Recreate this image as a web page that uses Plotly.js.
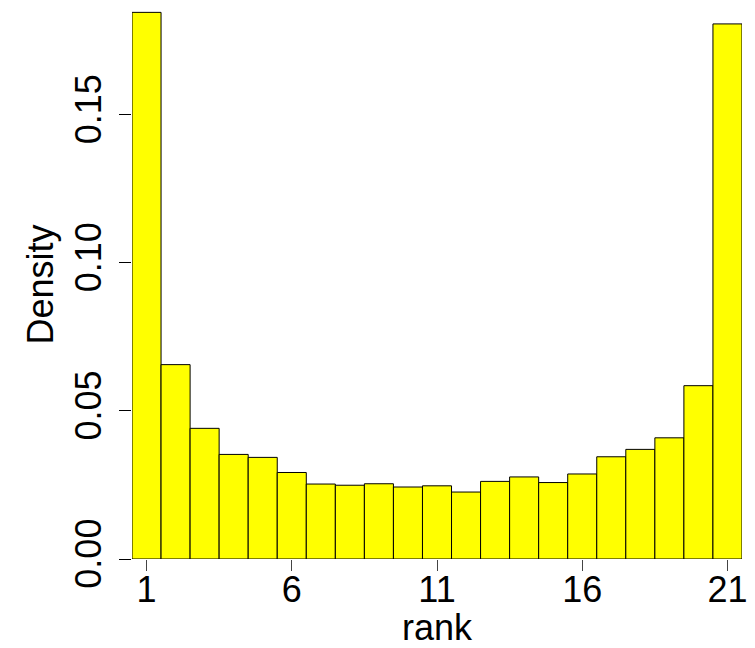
<!DOCTYPE html>
<html>
<head>
<meta charset="utf-8">
<script src="https://cdn.plot.ly/plotly-3.0.1.min.js"></script>
<style>html,body{margin:0;padding:0;background:#fff;}#chart{width:755px;height:648px;}</style>
</head>
<body>
<div id="chart"></div>
<script>
const ranks = [1,2,3,4,5,6,7,8,9,10,11,12,13,14,15,16,17,18,19,20,21];
const density = [0.1845,0.0656,0.0441,0.0353,0.0343,0.0292,0.0253,0.0249,0.0254,0.0243,0.0247,0.0226,0.0262,0.0277,0.0258,0.0287,0.0345,0.0370,0.0409,0.0585,0.1806];
const xTicks = [1,6,11,16,21];
const yTicks = [0,0.05,0.10,0.15];
const yTickText = ["0.00","0.05","0.10","0.15"];

const font = {family: "Liberation Sans, Arial, Helvetica, sans-serif", color: "#000"};

Plotly.newPlot("chart", [{
  type: "bar",
  x: ranks,
  y: density,
  width: 1,
  marker: {color: "#FFFF00", line: {color: "#000", width: 1}},
  hoverinfo: "x+y"
}], {
  width: 755, height: 648,
  margin: {l: 132, r: 13, t: 10, b: 89},
  paper_bgcolor: "#fff", plot_bgcolor: "#fff",
  bargap: 0,
  showlegend: false,
  font: Object.assign({size: 36}, font),
  xaxis: {
    range: [0.5, 21.5],
    tickvals: xTicks,
    ticktext: xTicks.map(String),
    ticks: "outside", ticklen: 11, tickcolor: "#444", tickwidth: 1,
    ticklabelstandoff: -12,
    showline: false, showgrid: false, zeroline: false,
    tickfont: Object.assign({size: 36}, font),
    title: {text: "rank", font: Object.assign({size: 36}, font), standoff: 16},
    automargin: false
  },
  yaxis: {
    range: [0, 0.1853],
    tickvals: yTicks,
    ticktext: yTickText,
    tickangle: -90,
    ticks: "outside", ticklen: 12, tickcolor: "#000", tickwidth: 1,
    ticklabelstandoff: 4,
    showline: false, showgrid: false, zeroline: false,
    tickfont: Object.assign({size: 36}, font),
    title: {text: "Density", font: Object.assign({size: 36}, font), standoff: 2},
    automargin: false
  }
}, {displayModeBar: false, staticPlot: true});
</script>
</body>
</html>
